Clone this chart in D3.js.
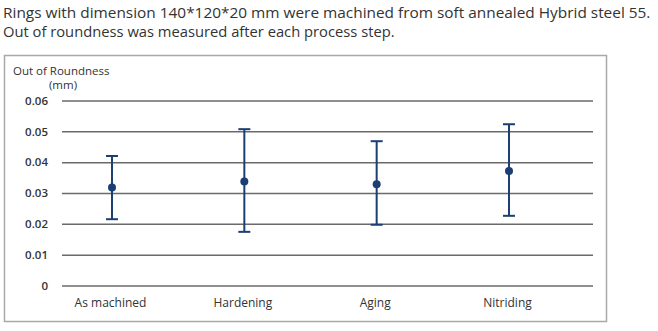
<!DOCTYPE html>
<html>
<head>
<meta charset="utf-8">
<script src="https://cdn.jsdelivr.net/npm/d3@7/dist/d3.min.js"></script>
<style>
  html, body { margin: 0; padding: 0; background: #fff; }
  svg { display: block; }
  text { font-family: "Open Sans", "Noto Sans", sans-serif; fill: #333; }
</style>
</head>
<body>
<div id="chart"></div>
<script>
// Out-of-roundness per process step: mean with min/max range
const categories = ["As machined", "Hardening", "Aging", "Nitriding"];
const meanValues = [0.0318, 0.0337, 0.0328, 0.0371];
const minValues  = [0.0215, 0.0174, 0.0197, 0.0226];
const maxValues  = [0.0420, 0.0507, 0.0468, 0.0523];
const yTicks = [0, 0.01, 0.02, 0.03, 0.04, 0.05, 0.06];
const yTickLabels = ["0", "0.01", "0.02", "0.03", "0.04", "0.05", "0.06"];
const titleLines = [
  "Rings with dimension 140*120*20 mm were machined from soft annealed Hybrid steel 55.",
  "Out of roundness was measured after each process step."
];

const W = 658, H = 331;
const navy = "#1b3f73";

const svg = d3.select("#chart").append("svg")
  .attr("width", W).attr("height", H);

// Intro text above the chart frame, narrowed horizontally to fit the line widths
const titleWidths = [648, 392];
titleLines.forEach((t, i) => {
  const baseY = 18 + i * 19;
  const g = svg.append("g");
  const txt = g.append("text")
    .attr("x", 0).attr("y", 0)
    .attr("font-size", 15)
    .attr("font-family", "Lato, \"Open Sans\", sans-serif")
    .attr("fill", "#3a3a3a")
    .text(t);
  const w = txt.node().getComputedTextLength();
  g.attr("transform", `translate(3,${baseY}) scale(${titleWidths[i] / w},1)`);
});

// Chart frame
svg.append("rect")
  .attr("x", 4.5).attr("y", 55.5)
  .attr("width", 602).attr("height", 266)
  .attr("fill", "none")
  .attr("stroke", "#a9a9a9")
  .attr("stroke-width", 1.5);

const y = d3.scaleLinear().domain([0, 0.06]).range([285.5, 100.5]);
const x = d3.scalePoint().domain(categories).range([112, 509]);

// Horizontal gridlines with value labels
const yAxis = d3.axisLeft(y)
  .tickValues(yTicks)
  .tickSize(-(593 - 62))
  .tickFormat((d, i) => yTickLabels[i]);

const gy = svg.append("g")
  .attr("transform", "translate(62,0)")
  .call(yAxis);
gy.select(".domain").remove();
gy.selectAll(".tick line")
  .attr("stroke", "#6a6a6a")
  .attr("stroke-width", 1.5);
gy.selectAll(".tick text")
  .attr("x", -14)
  .attr("dy", "0.32em")
  .attr("font-size", 11.5)
  .attr("font-weight", 600)
  .attr("fill", "#333")
  .attr("font-family", "\"Open Sans\", sans-serif");

// Axis title
svg.append("text")
  .attr("x", 13).attr("y", 75)
  .attr("font-size", 11.5)
  .text("Out of Roundness");
svg.append("text")
  .attr("x", 63).attr("y", 88.5)
  .attr("text-anchor", "middle")
  .attr("font-size", 11.5)
  .text("(mm)");

// Category labels
const gx = svg.append("g")
  .attr("transform", "translate(0,285.5)")
  .call(d3.axisBottom(x).tickSize(0).tickPadding(0));
gx.select(".domain").remove();
gx.selectAll(".tick text")
  .attr("x", -2)
  .attr("y", 21)
  .attr("dy", 0)
  .attr("font-size", 12)
  .attr("fill", "#333")
  .attr("font-family", "\"Open Sans\", sans-serif");

// Error bars: range line, caps and mean marker
const rows = categories.map((c, i) => ({
  c, mean: meanValues[i], lo: minValues[i], hi: maxValues[i]
}));

const bars = svg.append("g").selectAll("g").data(rows).join("g");
bars.append("line")
  .attr("x1", d => x(d.c)).attr("x2", d => x(d.c))
  .attr("y1", d => y(d.hi)).attr("y2", d => y(d.lo))
  .attr("stroke", navy).attr("stroke-width", 2);
bars.append("line")
  .attr("x1", d => x(d.c) - 6).attr("x2", d => x(d.c) + 6)
  .attr("y1", d => y(d.hi)).attr("y2", d => y(d.hi))
  .attr("stroke", navy).attr("stroke-width", 2);
bars.append("line")
  .attr("x1", d => x(d.c) - 6).attr("x2", d => x(d.c) + 6)
  .attr("y1", d => y(d.lo)).attr("y2", d => y(d.lo))
  .attr("stroke", navy).attr("stroke-width", 2);
bars.append("circle")
  .attr("cx", d => x(d.c)).attr("cy", d => y(d.mean))
  .attr("r", 4)
  .attr("fill", navy);
</script>
</body>
</html>
